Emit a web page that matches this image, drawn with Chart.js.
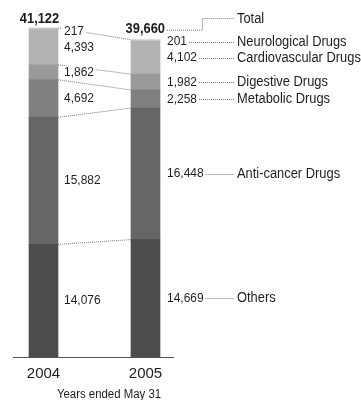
<!DOCTYPE html>
<html lang="en">
<head>
    <meta charset="UTF-8">
    <title>Sales by Therapeutic Category</title>
    <script src="https://cdn.jsdelivr.net/npm/chart.js"></script>
    <style>
        html, body { margin: 0; padding: 0; background: #fff; }
    </style>
</head>
<body>
    <canvas id="salesChart" width="361" height="400"></canvas>

    <script>
        const years = ['2004', '2005'];
        const categories = ['Others', 'Anti-cancer Drugs', 'Metabolic Drugs', 'Digestive Drugs', 'Cardiovascular Drugs', 'Neurological Drugs'];
        const sales2004 = [14076, 15882, 4692, 1862, 4393, 217];
        const sales2005 = [14669, 16448, 2258, 1982, 4102, 201];
        const totals = [41122, 39660];

        const shades = ['#4d4d4d', '#666666', '#7f7f7f', '#999999', '#b2b2b2', '#c6c6c6'];
        const sans = '"Liberation Sans", Arial, sans-serif';

        function fmt(v) {
            return v.toLocaleString('en-US');
        }

        function dotted(ctx, pts) {
            ctx.beginPath();
            ctx.moveTo(pts[0][0], pts[0][1]);
            for (let i = 1; i < pts.length; i++) ctx.lineTo(pts[i][0], pts[i][1]);
            ctx.stroke();
        }

        // condensed text: squeeze a regular face horizontally, return drawn width
        function text(ctx, txt, x, y, size, align, bold, squeeze) {
            const sx = squeeze || 0.92;
            ctx.save();
            ctx.font = (bold ? 'bold ' : '') + size + 'px ' + sans;
            ctx.textAlign = align;
            ctx.textBaseline = 'middle';
            ctx.translate(x, y);
            ctx.scale(sx, 1);
            ctx.fillText(txt, 0, 0);
            const w = ctx.measureText(txt).width * sx;
            ctx.restore();
            return w;
        }

        function textWidth(ctx, txt, size) {
            ctx.save();
            ctx.font = size + 'px ' + sans;
            const w = ctx.measureText(txt).width * 0.92;
            ctx.restore();
            return w;
        }

        // connectors between the bars, value labels and the category legend on the right
        const annotations = {
            id: 'annotations',
            afterDatasetsDraw(chart) {
                const ctx = chart.ctx;
                const y = chart.scales.y;
                const first = chart.getDatasetMeta(0).data;
                const w = first[0].width;
                const x1 = first[0].x + w / 2;
                const x2 = first[1].x - w / 2;
                const x2r = first[1].x + w / 2;

                const cum = (arr, n) => arr.slice(0, n + 1).reduce((a, b) => a + b, 0);

                ctx.save();
                ctx.strokeStyle = '#777';
                ctx.lineWidth = 1;
                ctx.setLineDash([1, 1]);

                // boundaries joined between the two years
                [0, 1, 2, 3, 5].forEach(i => {
                    dotted(ctx, [[x1, y.getPixelForValue(cum(sales2004, i))], [x2, y.getPixelForValue(cum(sales2005, i))]]);
                });
                ctx.setLineDash([]);

                // 2004 values in the gap
                sales2004.forEach((v, i) => {
                    const top = y.getPixelForValue(cum(sales2004, i));
                    const bot = y.getPixelForValue(cum(sales2004, i) - v);
                    let ty = (top + bot) / 2;
                    if (bot - top < 8) ty = top + 3;
                    const txt = fmt(v);
                    const tw = textWidth(ctx, txt, 13);
                    ctx.fillStyle = '#fff';
                    ctx.fillRect(x1 + 4, ty - 6, tw + 4, 12);
                    ctx.fillStyle = '#1e1e1e';
                    text(ctx, txt, x1 + 6, ty, 13, 'left');
                });

                // 2005 values with leaders to category names
                const nameX = 237;
                sales2005.forEach((v, i) => {
                    const top = y.getPixelForValue(cum(sales2005, i));
                    const bot = y.getPixelForValue(cum(sales2005, i) - v);
                    let ty = (top + bot) / 2;
                    if (bot - top < 8) ty = top + 2;
                    const tw = text(ctx, fmt(v), x2r + 7, ty, 13, 'left');
                    ctx.setLineDash([1, 1]);
                    dotted(ctx, [[x2r + 9 + tw, Math.round(ty) + 0.5], [nameX - 3, Math.round(ty) + 0.5]]);
                    ctx.setLineDash([]);
                    text(ctx, categories[i], nameX, ty, 14, 'left');
                });

                // totals above the bars
                text(ctx, fmt(totals[0]), first[0].x - 4, y.getPixelForValue(totals[0]) - 9, 14, 'center', true);
                const ty2 = y.getPixelForValue(totals[1]) - 11;
                text(ctx, fmt(totals[1]), x2r + 5, ty2, 14, 'right', true);
                ctx.setLineDash([1, 1]);
                dotted(ctx, [[x2r + 7, ty2 + 1.5], [202.5, ty2 + 1.5], [202.5, 18.5], [nameX - 3, 18.5]]);
                ctx.setLineDash([]);
                text(ctx, 'Total', nameX, 19, 14, 'left');

                // baseline and axis caption
                const base = y.getPixelForValue(0);
                ctx.strokeStyle = '#555';
                dotted(ctx, [[13, Math.round(base) + 0.5], [174, Math.round(base) + 0.5]]);
                text(ctx, 'Years ended May 31', 109, 395, 12, 'center', false, 0.95);
                ctx.restore();
            }
        };

        const ctx = document.getElementById('salesChart').getContext('2d');
        const chart = new Chart(ctx, {
            type: 'bar',
            data: {
                labels: years,
                datasets: categories.map((name, i) => ({
                    label: name,
                    data: [sales2004[i], sales2005[i]],
                    backgroundColor: shades[i],
                    barThickness: 29,
                    clip: false
                }))
            },
            options: {
                responsive: false,
                animation: false,
                layout: {
                    padding: { top: 28, left: 43.5, right: 215.5, bottom: 9 }
                },
                plugins: {
                    legend: { display: false },
                    tooltip: { enabled: false }
                },
                scales: {
                    x: {
                        stacked: true,
                        offset: false,
                        grid: { display: false, drawTicks: false },
                        border: { display: false },
                        ticks: {
                            padding: 8,
                            color: '#222',
                            font: { family: sans, size: 15 }
                        }
                    },
                    y: {
                        stacked: true,
                        display: false,
                        min: 0,
                        max: totals[0]
                    }
                }
            },
            plugins: [annotations]
        });
    </script>
</body>
</html>
